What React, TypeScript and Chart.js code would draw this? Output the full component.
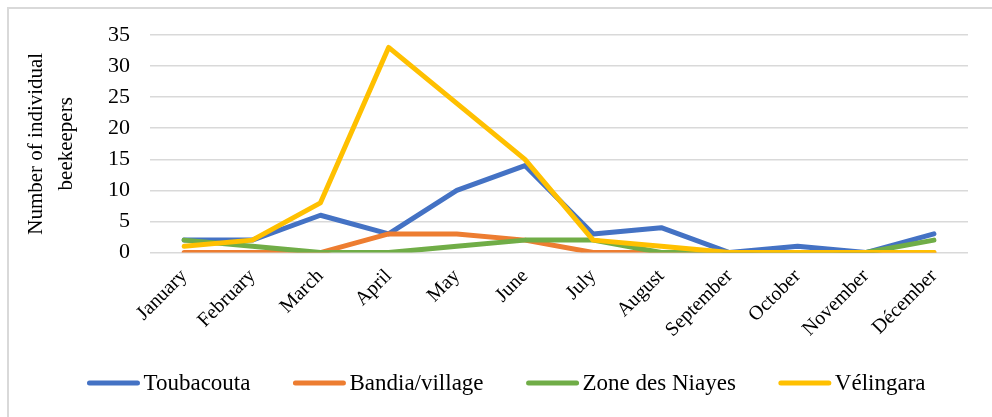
import React, { useEffect, useRef } from "react";
import { Chart, registerables } from "chart.js";

Chart.register(...registerables);

const months = ["January", "February", "March", "April", "May", "June", "July", "August", "September", "October", "November", "Décember"];
const toubacouta = [2, 2, 6, 3, 10, 14, 3, 4, 0, 1, 0, 3];
const bandia = [0, 0, 0, 3, 3, 2, 0, 0, 0, 0, 0, 0];
const niayes = [2, 1, 0, 0, 1, 2, 2, 0, 0, 0, 0, 2];
const velingara = [1, 2, 8, 33, 24, 15, 2, 1, 0, 0, 0, 0];
const yTicks = [0, 5, 10, 15, 20, 25, 30, 35];

const seriesNames = ["Toubacouta", "Bandia/village", "Zone des Niayes", "Vélingara"];
const seriesColors = ["#4472C4", "#ED7D31", "#70AD47", "#FFC000"];

const FONT = "'Liberation Serif', serif";

const customLegend = {
  id: "customLegend",
  afterDraw(chart: any) {
    const ctx = chart.ctx as CanvasRenderingContext2D;
    const ds = chart.data.datasets;
    ctx.save();
    ctx.font = `23px 'Liberation Serif', serif`;
    ctx.textBaseline = "middle";
    ctx.textAlign = "left";
    const lineW = 54;
    const gap = 3;
    const spacing = 42;
    const widths = ds.map((d: any) => lineW + gap + ctx.measureText(d.label).width);
    const total = widths.reduce((a: number, b: number) => a + b, 0) + spacing * (ds.length - 1);
    let x = chart.width / 2 - total / 2 - 1;
    const y = 374;
    ds.forEach((d: any, i: number) => {
      ctx.strokeStyle = d.borderColor;
      ctx.lineWidth = 5;
      ctx.lineCap = "round";
      ctx.beginPath();
      ctx.moveTo(x + 3, y);
      ctx.lineTo(x + lineW - 3, y);
      ctx.stroke();
      ctx.fillStyle = "#000";
      ctx.fillText(d.label, x + lineW + gap, y + 1);
      x += widths[i] + spacing;
    });
    ctx.restore();
  },
};

export default function App() {
  const ref = useRef<HTMLCanvasElement>(null);
  useEffect(() => {
    document.body.style.margin = "0";
    document.body.style.overflow = "hidden";
    let chart: Chart | null = null;
    let cancelled = false;
    const build = () => {
      if (cancelled || !ref.current) return;
      const allData = [toubacouta, bandia, niayes, velingara];
      chart = new Chart(ref.current, {
        type: "line",
        data: {
          labels: months,
          datasets: allData.map((d, i) => ({
            label: seriesNames[i],
            data: d,
            borderColor: seriesColors[i],
            backgroundColor: seriesColors[i],
            borderWidth: 5,
            pointRadius: 0,
            tension: 0,
            order: 4 - i,
            borderCapStyle: "round" as const,
            borderJoinStyle: "round" as const,
          })),
        },
        options: {
          animation: false,
          responsive: false,
          layout: { padding: { left: 8, right: 37, top: 26, bottom: 71 } },
          plugins: { legend: { display: false }, tooltip: { enabled: false } },
          scales: {
            x: {
              offset: true,
              grid: { display: false },
              border: { display: false },
              ticks: {
                color: "#000",
                font: { family: FONT, size: 20 },
                minRotation: 45,
                maxRotation: 45,
                padding: 4,
              },
            },
            y: {
              min: 0,
              max: 35,
              afterBuildTicks: (axis: any) => {
                axis.ticks = yTicks.map((v) => ({ value: v }));
              },
              grid: {
                color: "#d9d9d9",
                lineWidth: 1.5,
                drawTicks: true,
                tickLength: 18,
                tickColor: "rgba(0,0,0,0)",
              },
              border: { display: false },
              ticks: {
                color: "#000",
                font: { family: FONT, size: 22 },
                padding: 2,
              },
              title: {
                display: true,
                text: ["Number of individual", "beekeepers"],
                color: "#000",
                font: { family: FONT, size: 21, lineHeight: 1.43 },
                padding: { top: 4, bottom: 25 },
              },
            },
          },
        },
        plugins: [customLegend],
      });
    };
    const fonts: any = (document as any).fonts;
    if (fonts && fonts.load) {
      Promise.all([
        fonts.load("23px 'Liberation Serif'"),
        fonts.load("20px 'Liberation Serif'"),
      ]).then(build, build);
    } else {
      build();
    }
    return () => {
      cancelled = true;
      if (chart) chart.destroy();
    };
  }, []);
  return (
    <div style={{ position: "relative", width: 992, height: 417, overflow: "hidden", background: "#fff" }}>
      <div
        style={{
          position: "absolute",
          left: 7,
          top: 7,
          width: 998,
          height: 420,
          borderLeft: "2px solid #d9d9d9",
          borderTop: "2px solid #d9d9d9",
          boxSizing: "border-box",
        }}
      >
        <canvas ref={ref} width={996} height={408} style={{ display: "block" }} />
      </div>
    </div>
  );
}
